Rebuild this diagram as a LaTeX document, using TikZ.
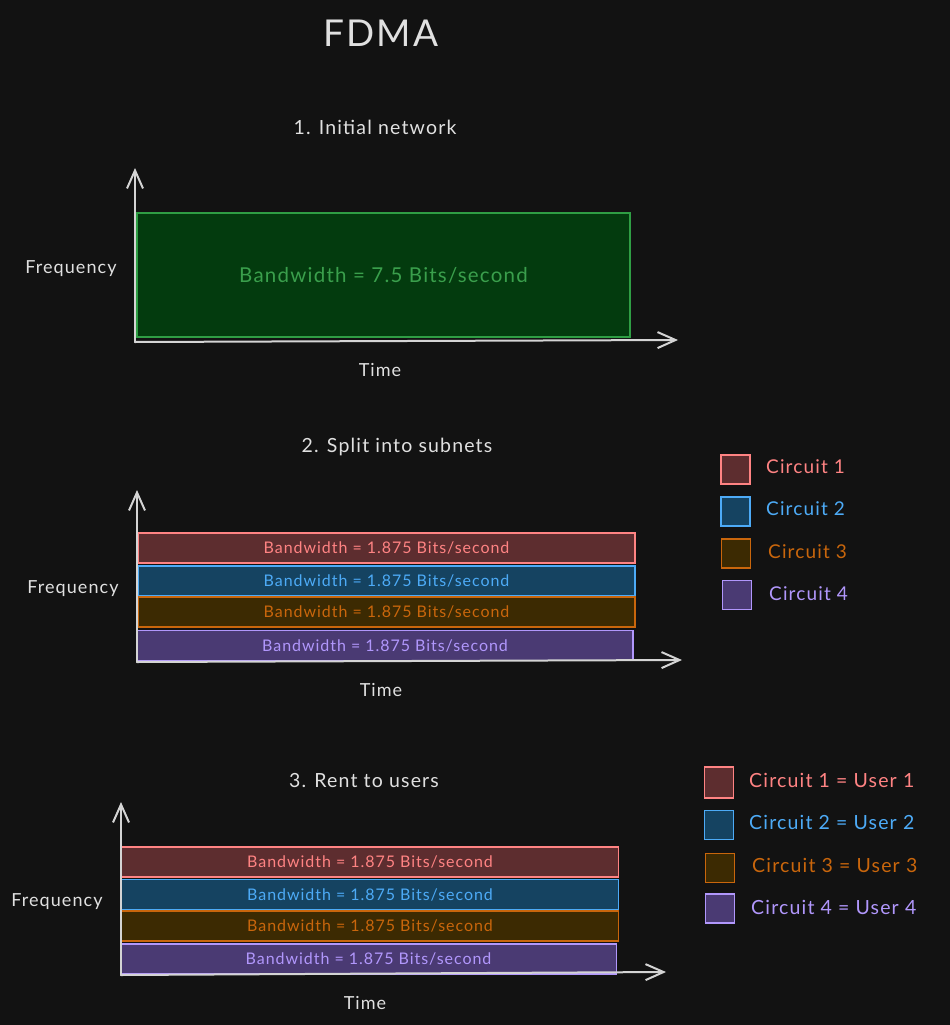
\documentclass[tikz,border=0pt]{standalone}
\usepackage{fontspec}
\setmainfont[LetterSpace=6]{Lato}
\usetikzlibrary{arrows.meta}
\definecolor{bg}{HTML}{121212}
\definecolor{axis}{HTML}{D4D4D4}
\definecolor{txt}{HTML}{E0E0E0}
\definecolor{gstroke}{HTML}{2F9E44}
\definecolor{gfill}{HTML}{033B0E}
\definecolor{gtext}{HTML}{3A9F4C}
\definecolor{rstroke}{HTML}{FF8383}
\definecolor{rfill}{HTML}{5D2D2F}
\definecolor{bstroke}{HTML}{4DABF7}
\definecolor{bfill}{HTML}{154361}
\definecolor{ostroke}{HTML}{C9660C}
\definecolor{ofill}{HTML}{3C2A02}
\definecolor{pstroke}{HTML}{B197FC}
\definecolor{pfill}{HTML}{4A3A73}
\tikzset{
  axisline/.style={draw=axis, line width=2pt, line cap=round, -{Straight Barb[length=18pt,width=16pt,line width=2pt]}},
  lbl/.style={text=txt, font=\fontsize{18}{21}\selectfont, inner sep=0pt},
  ttl/.style={text=txt, font=\fontsize{19.5}{23}\selectfont, inner sep=0pt},
  band/.style={line width=1.8pt, minimum width=497pt, minimum height=30pt, inner sep=0pt, font=\fontsize{16}{19}\selectfont},
  rband/.style={band, draw=rstroke, fill=rfill, text=rstroke},
  bband/.style={band, draw=bstroke, fill=bfill, text=bstroke},
  oband/.style={band, draw=ostroke, fill=ofill, text=ostroke},
  pband/.style={band, draw=pstroke, fill=pfill, text=pstroke},
  sq/.style={line width=1.8pt, minimum width=29pt, minimum height=29pt, inner sep=0pt},
  leg/.style={anchor=west, inner sep=0pt, font=\fontsize{19}{22}\selectfont},
  legw/.style={anchor=west, inner sep=0pt, font=\fontsize{19.5}{22}\selectfont},
}
\begin{document}
\begin{tikzpicture}[x=1pt,y=-1pt]
\fill[bg] (0,0) rectangle (950,1025);
\useasboundingbox (0,0) rectangle (950,1025);

\node[text=txt, font=\fontsize{37}{42}\selectfont, inner sep=0pt] (title) at (381,33) {FDMA};

% ---------- Section 1 ----------
\node[ttl] (t1) at (375,127) {1. Initial network};
\node[draw=gstroke, fill=gfill, line width=1.8pt, minimum width=493pt, minimum height=124pt, inner sep=0pt,
      text=gtext, font=\fontsize{20.5}{24}\selectfont] (g) at (383.5,275) {Bandwidth = 7.5 Bits/second};
\coordinate (o1) at (135,342);
\coordinate (y1) at (135,168);
\coordinate (x1) at (678,340);
\draw[axisline] (o1) -- (y1);
\draw[axisline] (o1) -- (x1);
\node[lbl] (f1) at (71,269) {Frequency};
\node[lbl] (tm1) at (380,370) {Time};

% ---------- Section 2 ----------
\node[ttl] (t2) at (397,447) {2. Split into subnets};
\node[rband] (r2) at (386.5,548) {Bandwidth = 1.875 Bits/second};
\node[bband] (b2) at (386.5,581) {Bandwidth = 1.875 Bits/second};
\node[oband] (o2) at (386.5,612) {Bandwidth = 1.875 Bits/second};
\node[pband, minimum width=496pt] (p2) at (385,645.5) {Bandwidth = 1.875 Bits/second};
\coordinate (o2c) at (137,662);
\coordinate (y2) at (137,490);
\coordinate (x2) at (682,660);
\draw[axisline] (o2c) -- (y2);
\draw[axisline] (o2c) -- (x2);
\node[lbl] (f2) at (73,589) {Frequency};
\node[lbl] (tm2) at (381,690) {Time};

\node[sq, draw=rstroke, fill=rfill] (s21) at (735.5,469.5) {};
\node[sq, draw=bstroke, fill=bfill] (s22) at (735.5,511.5) {};
\node[sq, draw=ostroke, fill=ofill] (s23) at (736,553.5) {};
\node[sq, draw=pstroke, fill=pfill] (s24) at (737,595) {};
\node[leg, text=rstroke] (l21) at (766,467) {Circuit 1};
\node[leg, text=bstroke] (l22) at (766,509) {Circuit 2};
\node[leg, text=ostroke] (l23) at (768,552) {Circuit 3};
\node[leg, text=pstroke] (l24) at (769,594) {Circuit 4};

% ---------- Section 3 ----------
\node[ttl] (t3) at (364,781) {3. Rent to users};
\node[rband] (r3) at (370,862) {Bandwidth = 1.875 Bits/second};
\node[bband] (b3) at (370,894.5) {Bandwidth = 1.875 Bits/second};
\node[oband] (o3) at (370,926) {Bandwidth = 1.875 Bits/second};
\node[pband, minimum width=496pt] (p3) at (368.5,959) {Bandwidth = 1.875 Bits/second};
\coordinate (o3c) at (121,975);
\coordinate (y3) at (121,802);
\coordinate (x3) at (666,972);
\draw[axisline] (o3c) -- (y3);
\draw[axisline] (o3c) -- (x3);
\node[lbl] (f3) at (57,902) {Frequency};
\node[lbl] (tm3) at (365,1003) {Time};

\node[sq, draw=rstroke, fill=rfill, minimum height=31pt] (s31) at (719,782.5) {};
\node[sq, draw=bstroke, fill=bfill] (s32) at (719,825) {};
\node[sq, draw=ostroke, fill=ofill] (s33) at (720,868) {};
\node[sq, draw=pstroke, fill=pfill] (s34) at (720,908.5) {};
\node[legw, text=rstroke] (l31) at (749,780) {Circuit 1 = User 1};
\node[legw, text=bstroke] (l32) at (749,822) {Circuit 2 = User 2};
\node[legw, text=ostroke] (l33) at (752,865) {Circuit 3 = User 3};
\node[legw, text=pstroke] (l34) at (751,907) {Circuit 4 = User 4};
\end{tikzpicture}
\end{document}
